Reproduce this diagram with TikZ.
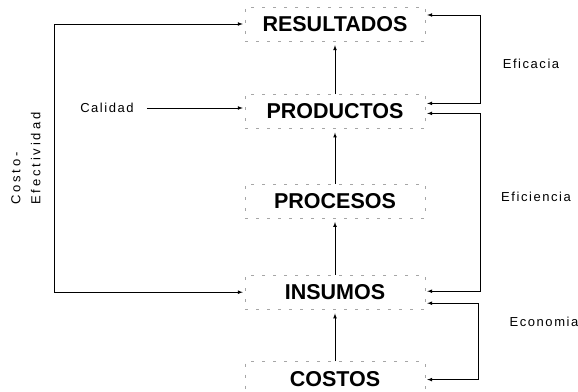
\documentclass[tikz,border=0pt]{standalone}
\usepackage{fontspec}
\setmainfont{Liberation Sans}
\newfontfamily\etiqfont[LetterSpace=12]{Liberation Sans}
\newfontfamily\etiqanchafont[LetterSpace=22]{Liberation Sans}
\usepackage{tikz}
\usetikzlibrary{arrows}
\usetikzlibrary{positioning}
\tikzstyle{bloque} = [rectangle, draw=black!35, dash pattern=on 3pt off 8pt,
minimum width=180pt, minimum height=34pt, inner sep=0pt,
font=\fontsize{21.5}{21.5}\selectfont\bfseries]
\tikzstyle{etiq} = [inner sep=0pt, font=\fontsize{13}{20}\selectfont\etiqfont]
\tikzstyle{enlace} = [>={latex}, line width=0.7pt]
\newcommand{\flechas}[3][]{ %
  % Connect all nodes #2 to all nodes #3.
  \foreach \a in {#2} { %
    \foreach \b in {#3} { %
      \path (\a) edge [enlace, ->, shorten >=4pt, #1] (\b) ;%
    } ;
  } ;
}

\begin{document}
\begin{tikzpicture}[x=1pt, y=1pt]
  \useasboundingbox (0,0) rectangle (578,391);
  % niveles
  \node[bloque] at (335,367)                  (resultados) {RESULTADOS};
  \node[bloque, below = 53pt of resultados]   (productos)  {PRODUCTOS};
  \node[bloque, below = 55pt of productos]    (procesos)   {PROCESOS};
  \node[bloque, below = 57pt of procesos]     (insumos)    {INSUMOS};
  \node[bloque, below = 52pt of insumos]      (costos)     {COSTOS};
  % etiquetas
  \node[etiq] at (107,283)                    (calidad)    {Calidad};
  \node[etiq, font=\fontsize{13}{20}\selectfont\etiqanchafont, rotate=90, anchor=west, align=left]
    at (26,186) (costoefect) {Costo-\\Efectividad};
  \node[etiq] at (531,327)                    (eficacia)   {Eficacia};
  \node[etiq] at (536,194)                    (eficiencia) {Eficiencia};
  \node[etiq] at (544,69)                     (economia)   {Economia};

  % edges
  \flechas {costos} {insumos}
  \flechas {insumos} {procesos}
  \flechas {procesos} {productos}
  \flechas {productos} {resultados}
  % calidad
  \draw[enlace, ->, shorten <=13pt, shorten >=2pt] (calidad.east) -- (productos.west |- calidad.east);
  % costo-efectividad
  \draw[enlace, <->, shorten <=2pt, shorten >=2pt] (resultados.west) -- ++(-190pt,0) |- (insumos.west);
  % eficacia, eficiencia, economia
  \draw[enlace, <->, shorten <=2pt, shorten >=2pt] ([yshift=9pt]resultados.east) -- ++(55pt,0) |- ([yshift=8pt]productos.east);
  \draw[enlace, <->, shorten <=2pt, shorten >=2pt] ([yshift=-2pt]productos.east) -- ++(55pt,0) |- ([yshift=1pt]insumos.east);
  \draw[enlace, <->, shorten <=2pt, shorten >=2pt] ([yshift=-11pt]insumos.east) -- ++(53pt,0) |- ([yshift=-1pt]costos.east);
\end{tikzpicture}
\end{document}
